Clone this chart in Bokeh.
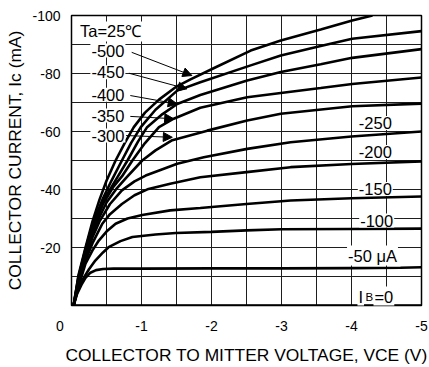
import math
from bokeh.plotting import figure
from bokeh.models import Range1d, FixedTicker, Label, Arrow, NormalHead
from bokeh.embed import file_html
from bokeh.resources import INLINE

FONT = "Liberation Sans"

# ---------------- data ----------------
x_ticks = [0, -1, -2, -3, -4, -5]
x_tick_labels = ["0", "-1", "-2", "-3", "-4", "-5"]
y_ticks = [-20, -40, -60, -80, -100]
y_tick_labels = ["-20", "-40", "-60", "-80", "-100"]
x_grid = [-0.5, -1.0, -1.5, -2.0, -2.5, -3.0, -3.5, -4.0, -4.5]
y_grid = [-10, -20, -30, -40, -50, -60, -70, -80, -90]

vce_0 = [0.0, -5.0]
ic_0 = [0.0, 0.0]

vce_50 = [-0.03, -0.08, -0.15, -0.2, -0.27, -0.35, -0.45, -0.6, -1.0, -2.0, -3.0, -4.0, -4.7, -5.0]
ic_50 = [0, -4, -7.5, -9.5, -11.3, -12.2, -12.6, -12.7, -12.7, -12.8, -12.8, -12.9, -13.0, -13.2]

vce_100 = [-0.03, -0.08, -0.15, -0.25, -0.34, -0.45, -0.53, -0.7, -0.87, -1.2, -1.49, -2.0, -2.5, -3.0, -4.0, -5.0]
ic_100 = [0, -4.5, -8.6, -12.5, -15.5, -18.3, -20.1, -22.2, -23.6, -24.5, -25.0, -25.4, -25.9, -26.3, -26.4, -26.5]

vce_150 = [-0.03, -0.1, -0.2, -0.3, -0.39, -0.5, -0.63, -0.8, -1.01, -1.41, -1.84, -2.5, -3.13, -4.0, -5.0]
ic_150 = [0, -6.5, -14.4, -19, -22.4, -25.5, -28.2, -30, -31.2, -32.8, -33.6, -35, -36.2, -37, -37.6]

vce_200 = [-0.03, -0.1, -0.2, -0.3, -0.44, -0.55, -0.72, -0.9, -1.1, -1.41, -1.84, -2.5, -3.13, -4.0, -5.0]
ic_200 = [0, -7.5, -15.5, -21.5, -28.2, -31.5, -35, -38, -40.2, -42, -44.2, -46, -47.7, -48.8, -49.7]

vce_250 = [-0.03, -0.1, -0.2, -0.3, -0.4, -0.55, -0.72, -0.9, -1.06, -1.3, -1.51, -1.89, -2.51, -3.13, -4.0, -5.0]
ic_250 = [0, -8, -16.5, -23.5, -29, -35, -39.7, -42.8, -44.8, -47, -48.9, -51.1, -54, -56.3, -58.3, -60]

vce_300 = [-0.03, -0.1, -0.2, -0.3, -0.4, -0.5, -0.65, -0.78, -1.01, -1.2, -1.44, -1.94, -2.51, -2.99, -4.01, -5.0]
ic_300 = [0, -8.5, -17, -24.5, -30.5, -35.5, -40.5, -44, -50, -53.5, -57, -60.3, -63.8, -66.1, -68.7, -69.6]

vce_350 = [-0.03, -0.1, -0.2, -0.3, -0.45, -0.6, -0.72, -0.87, -1.05, -1.25, -1.46, -1.84, -2.51, -2.99, -3.56, -4.01, -5.0]
ic_350 = [0, -9, -18, -26, -35, -41, -44.5, -50, -56, -61.5, -64.4, -68.2, -71.8, -73.3, -75, -76.4, -78.6]

vce_400 = [-0.03, -0.1, -0.2, -0.3, -0.45, -0.65, -0.8, -0.95, -1.08, -1.3, -1.51, -1.84, -2.51, -2.99, -3.56, -4.01, -5.0]
ic_400 = [0, -9.5, -19, -27, -36, -44, -50, -56.5, -61.5, -66, -69.5, -72.6, -77.6, -80.5, -83.2, -85.4, -88.4]

vce_450 = [-0.03, -0.1, -0.2, -0.3, -0.45, -0.57, -0.72, -0.85, -0.99, -1.2, -1.51, -1.84, -2.56, -2.99, -3.56, -4.01, -5.0]
ic_450 = [0, -10, -19.5, -28, -37, -43, -50, -56, -61.5, -67.5, -74.1, -77, -82.8, -86.2, -89.5, -92, -94.6]

vce_500 = [-0.03, -0.1, -0.2, -0.3, -0.4, -0.5, -0.63, -0.76, -0.89, -1.05, -1.25, -1.5, -1.7, -2.03, -2.56, -2.99, -3.56, -4.01, -4.3]
ic_500 = [0, -10.5, -20, -29, -36.5, -43, -50, -56, -61.5, -66.5, -71, -75.5, -78, -81.8, -87.9, -91.4, -95.2, -98.3, -100]

curves = [(vce_0, ic_0), (vce_50, ic_50), (vce_100, ic_100), (vce_150, ic_150),
          (vce_200, ic_200), (vce_250, ic_250), (vce_300, ic_300), (vce_350, ic_350),
          (vce_400, ic_400), (vce_450, ic_450), (vce_500, ic_500)]

left_labels = ["-500", "-450", "-400", "-350", "-300"]
right_labels = ["-250", "-200", "-150", "-100", "-50 \u03bcA"]

x_title = "COLLECTOR TO MITTER VOLTAGE, VCE (V)"
y_title = "COLLECTOR CURRENT, Ic (mA)"

# ---------------- figure ----------------
p = figure(width=429, height=367, x_range=Range1d(0, -5), y_range=Range1d(0, -100),
           output_backend="svg", toolbar_location=None,
           min_border_left=71, min_border_right=8, min_border_top=15, min_border_bottom=62)
p.background_fill_color = "white"
p.border_fill_color = "white"
p.outline_line_color = "black"
p.outline_line_width = 1.5

NBSP = "\u00a0"
xo = dict(zip(x_ticks, x_tick_labels))
xo[0] = xo[0] + NBSP * 6  # origin label sits left of the corner
p.xaxis.ticker = FixedTicker(ticks=x_ticks)
p.yaxis.ticker = FixedTicker(ticks=y_ticks)
p.xaxis.major_label_overrides = xo
p.yaxis.major_label_overrides = dict(zip(y_ticks, y_tick_labels))
for ax in (p.xaxis, p.yaxis):
    ax.axis_line_color = None
    ax.major_tick_line_color = None
    ax.minor_tick_line_color = None
    ax.major_tick_out = 0
    ax.major_tick_in = 0
    ax.major_label_text_font = FONT
    ax.major_label_text_font_size = "14px"
    ax.major_label_text_color = "black"
    ax.axis_label_text_font = FONT
    ax.axis_label_text_font_size = "17.4px"
    ax.axis_label_text_font_style = "normal"
    ax.axis_label_text_color = "black"
p.yaxis.major_label_standoff = 11
p.xaxis.major_label_standoff = 12
p.xaxis.axis_label = x_title
p.yaxis.axis_label = y_title
p.xaxis.axis_label_standoff = 8
p.yaxis.axis_label_standoff = 4

p.xgrid.ticker = FixedTicker(ticks=x_grid)
p.ygrid.ticker = FixedTicker(ticks=y_grid)
p.grid.grid_line_color = "#1e1e1e"
p.grid.grid_line_width = 1

for vx, vy in curves:
    p.line(vx, vy, line_color="black", line_width=2.6)

# arrows from left labels to curves
arrow_start_x = [-0.86, -0.82, -0.84, -0.84, -0.78]
arrow_start_y = [-87.3, -80.1, -72.4, -65.2, -58.6]
arrow_end_x = [-1.72, -1.65, -1.51, -1.46, -1.44]
arrow_end_y = [-79.3, -74.7, -69.5, -64.4, -58.0]
for xs, ys, xe, ye in zip(arrow_start_x, arrow_start_y, arrow_end_x, arrow_end_y):
    p.add_layout(Arrow(end=NormalHead(size=9, fill_color="black", line_color="black", line_width=1),
                       x_start=xs, y_start=ys, x_end=xe, y_end=ye,
                       line_color="black", line_width=1))


def lab(text, x, y, size="16.5px", align="center", baseline="middle", bg=True):
    kw = dict(x=x, y=y, text=text, text_font=FONT, text_font_size=size, text_color="black",
              text_align=align, text_baseline=baseline)
    if bg:
        kw.update(background_fill_color="white", padding=1)
    p.add_layout(Label(**kw))


# left labels
lab("Ta=25\u2103", -0.56, -94.5)
left_y = [-87.9, -80.4, -72.7, -65.5, -58.6]
for t, yy in zip(left_labels, left_y):
    lab(t, -0.52, yy)

# right labels
right_x = [-4.34, -4.34, -4.34, -4.36, -4.3]
right_y = [-62.9, -52.9, -40.2, -29.3, -17.2]
for t, xx, yy in zip(right_labels, right_x, right_y):
    lab(t, xx, yy)
# IB=0 (small subscript B)
lab("I", -4.179, -3.1, align="right", baseline="alphabetic")
lab("B", -4.186, -3.1, size="11.5px", align="left", baseline="alphabetic")
lab("=0", -4.314, -3.1, align="left", baseline="alphabetic")

open("out.html", "w").write(file_html(p, INLINE))
